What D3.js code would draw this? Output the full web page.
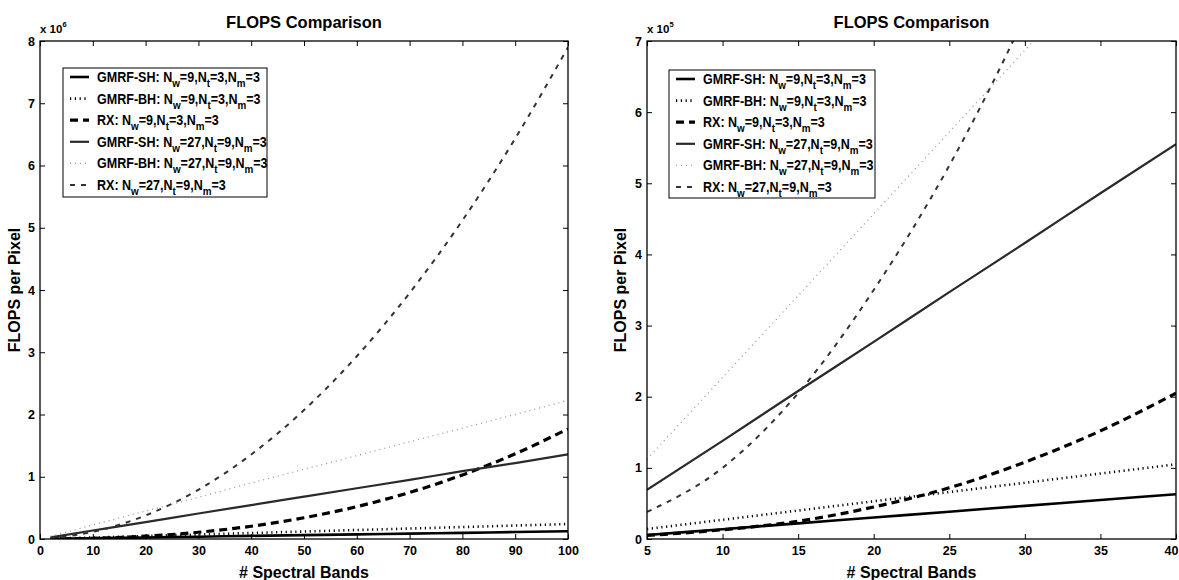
<!DOCTYPE html>
<html><head><meta charset="utf-8">
<script src="https://cdn.jsdelivr.net/npm/d3@7"></script>
<style>
body{margin:0;background:#fff}
svg text{font-family:"Liberation Sans",Arial,Helvetica,sans-serif;font-weight:bold;fill:#000}
</style>
</head><body>
<svg id="chart" width="1179" height="580"></svg>
<script>
// ---------- DATA ----------
const seriesNames  = ["GMRF-SH","GMRF-BH","RX","GMRF-SH","GMRF-BH","RX"];
const seriesNw     = ["9","9","9","27","27","27"];
const seriesNt     = ["3","3","3","9","9","9"];
const seriesNm     = ["3","3","3","3","3","3"];

// Left panel (values in units of 10^6)
const leftBands = [2,10,20,30,40,50,60,70,80,90,100];
const leftSH9   = [0.002,0.012,0.025,0.037,0.050,0.062,0.074,0.087,0.099,0.112,0.124];
const leftBH9   = [0.005,0.024,0.048,0.072,0.096,0.120,0.144,0.168,0.192,0.216,0.240];
const leftRX9   = [0.0004,0.0104,0.0447,0.108,0.205,0.341,0.520,0.748,1.03,1.368,1.77];
const leftSH27  = [0.027,0.136,0.272,0.410,0.545,0.680,0.815,0.950,1.09,1.22,1.36];
const leftBH27  = [0.045,0.225,0.450,0.670,0.900,1.12,1.34,1.56,1.78,2.00,2.23];
const leftRX27  = [0.0107,0.114,0.378,0.791,1.357,2.071,2.936,3.952,5.117,6.434,7.90];
const leftXTicks = [0,10,20,30,40,50,60,70,80,90,100];
const leftYTicks = [0,1,2,3,4,5,6,7,8];
const leftExp = "6";

// Right panel (values in units of 10^5)
const rightBands = [5,10,15,20,25,30,35,40];
const rightSH9   = [0.056,0.138,0.220,0.302,0.384,0.466,0.548,0.630];
const rightBH9   = [0.14,0.27,0.40,0.53,0.66,0.79,0.92,1.05];
const rightRX9   = [0.05,0.13,0.25,0.45,0.72,1.08,1.52,2.05];
const rightSH27  = [0.69,1.38,2.08,2.77,3.47,4.16,4.86,5.55];
const rightBH27  = [1.12,2.27,3.42,4.57,5.72,6.87,8.02,9.17];
const rightRX27  = [0.38,1.00,2.05,3.50,5.25,7.35,9.80,12.6];
const rightXTicks = [5,10,15,20,25,30,35,40];
const rightYTicks = [0,1,2,3,4,5,6,7];
const rightExp = "5";

const titleText = "FLOPS Comparison";
const xLabelText = "# Spectral Bands";
const yLabelText = "FLOPS per Pixel";

// ---------- STYLES ----------
const styles = [
  {stroke:"#000", width:2.6, dash:null},
  {stroke:"#000", width:2.6, dash:"1.2,3.6"},
  {stroke:"#000", width:3.2, dash:"8,5"},
  {stroke:"#2a2a2a", width:2.2, dash:null},
  {stroke:"#9a9a9a", width:1.3, dash:"1,4"},
  {stroke:"#333", width:2.0, dash:"5,6"}
];

const svg = d3.select("#chart");

function drawPanel(cfg){
  const g = svg.append("g");
  const x = d3.scaleLinear().domain(cfg.xDomain).range([cfg.left,cfg.right]);
  const y = d3.scaleLinear().domain(cfg.yDomain).range([cfg.bottom,cfg.top]);
  const clipId = "clip"+cfg.id;
  svg.append("clipPath").attr("id",clipId).append("rect")
    .attr("x",cfg.left).attr("y",cfg.top).attr("width",cfg.right-cfg.left).attr("height",cfg.bottom-cfg.top);

  // lines
  const line = d3.line().x(d=>x(d[0])).y(d=>y(d[1])).curve(d3.curveMonotoneX);
  const lg = g.append("g").attr("clip-path",`url(#${clipId})`);
  cfg.series.forEach((vals,i)=>{
    const pts = cfg.bands.map((b,j)=>[b,vals[j]]);
    const st = styles[i];
    lg.append("path").datum(pts).attr("d",line).attr("fill","none")
      .attr("stroke",st.stroke).attr("stroke-width",st.width)
      .attr("stroke-dasharray",st.dash).attr("stroke-linecap","butt");
  });

  // axes
  const fmt = d3.format("d");
  const ax = (a)=>a.tickSizeOuter(0).tickPadding(7);
  const bottomAx = g.append("g").attr("transform",`translate(0,${cfg.bottom})`)
    .call(ax(d3.axisBottom(x).tickValues(cfg.xTicks).tickFormat(fmt).tickSizeInner(-5)));
  const topAx = g.append("g").attr("transform",`translate(0,${cfg.top})`)
    .call(ax(d3.axisTop(x).tickValues(cfg.xTicks).tickFormat("").tickSizeInner(-5)));
  const leftAx = g.append("g").attr("transform",`translate(${cfg.left},0)`)
    .call(ax(d3.axisLeft(y).tickValues(cfg.yTicks).tickFormat(fmt).tickSizeInner(-5)));
  const rightAx = g.append("g").attr("transform",`translate(${cfg.right},0)`)
    .call(ax(d3.axisRight(y).tickValues(cfg.yTicks).tickFormat("").tickSizeInner(-5)));
  [bottomAx,topAx,leftAx,rightAx].forEach(a=>{
    a.select(".domain").remove();
    a.selectAll("line").attr("stroke","#000").attr("stroke-width",1);
    a.selectAll("text").attr("font-size",12.5).attr("font-family","Liberation Sans, Arial").attr("font-weight","bold");
  });
  leftAx.selectAll("text").attr("dx",2);
  // keep the last x tick label inside the page
  bottomAx.selectAll(".tick text").each(function(d){
    const node = this;
    const w = node.getComputedTextLength();
    const cx = x(d);
    if (cx + w/2 > 1178) d3.select(node).attr("dx", (1178 - (cx + w/2)));
  });
  g.append("rect").attr("x",cfg.left).attr("y",cfg.top)
    .attr("width",cfg.right-cfg.left).attr("height",cfg.bottom-cfg.top)
    .attr("fill","none").attr("stroke","#000").attr("stroke-width",1.3);

  // title and labels
  g.append("text").attr("x",(cfg.left+cfg.right)/2).attr("y",cfg.top-13)
    .attr("text-anchor","middle").attr("font-size",16.5).text(titleText);
  g.append("text").attr("x",(cfg.left+cfg.right)/2).attr("y",578)
    .attr("text-anchor","middle").attr("font-size",16).text(xLabelText);
  g.append("text").attr("transform",`translate(${cfg.ylabX},${(cfg.top+cfg.bottom)/2}) rotate(-90)`)
    .attr("text-anchor","middle").attr("font-size",16).text(yLabelText);
  const ex = g.append("text").attr("x",cfg.left).attr("y",cfg.top-8).attr("font-size",11.5);
  ex.append("tspan").text("x 10");
  ex.append("tspan").attr("dy",-6).attr("font-size",7.5).text(cfg.exp);

  // legend
  const L = cfg.legend;
  const leg = g.append("g");
  leg.append("rect").attr("x",L.x).attr("y",L.y).attr("width",L.w).attr("height",L.h)
    .attr("fill","#fff").attr("stroke","#000").attr("stroke-width",1);
  let scaleX = null;
  seriesNames.forEach((name,i)=>{
    const cy = L.y + 9 + i*21.6;
    const st = styles[i];
    leg.append("line").attr("x1",L.x+7).attr("x2",L.x+26).attr("y1",cy).attr("y2",cy)
      .attr("stroke",st.stroke).attr("stroke-width",st.width).attr("stroke-dasharray",st.dash);
    const tg = leg.append("g");
    const t = tg.append("text").attr("x",0).attr("y",0).attr("font-size",14);
    const parts = [[name+": N",0],["w",1],["="+seriesNw[i]+",N",0],["t",1],["="+seriesNt[i]+",N",0],["m",1],["="+seriesNm[i],0]];
    let prevSub = 0;
    parts.forEach(([s,sub])=>{
      const ts = t.append("tspan").text(s);
      if(sub!==prevSub){ ts.attr("dy", sub? 5 : -5); }
      if(sub) ts.attr("font-size",11);
      prevSub = sub;
    });
    if(scaleX===null){ scaleX = L.textW / t.node().getComputedTextLength(); }
    tg.attr("transform",`translate(${L.x+34},${cy+5}) scale(${scaleX},1)`);
  });
}

const leftSeries = [leftSH9,leftBH9,leftRX9,leftSH27,leftBH27,leftRX27];
const rightSeries = [rightSH9,rightBH9,rightRX9,rightSH27,rightBH27,rightRX27];

drawPanel({id:"L", left:40, right:568, top:41, bottom:539,
  xDomain:[0,100], yDomain:[0,8], bands:leftBands, series:leftSeries,
  xTicks:leftXTicks, yTicks:leftYTicks, exp:leftExp, ylabX:20,
  legend:{x:63,y:68,w:204,h:129,textW:163}});
drawPanel({id:"R", left:647, right:1176, top:41, bottom:539,
  xDomain:[5,40], yDomain:[0,7], bands:rightBands, series:rightSeries,
  xTicks:rightXTicks, yTicks:rightYTicks, exp:rightExp, ylabX:626,
  legend:{x:669,y:70,w:206,h:128,textW:163}});
</script>
</body></html>
